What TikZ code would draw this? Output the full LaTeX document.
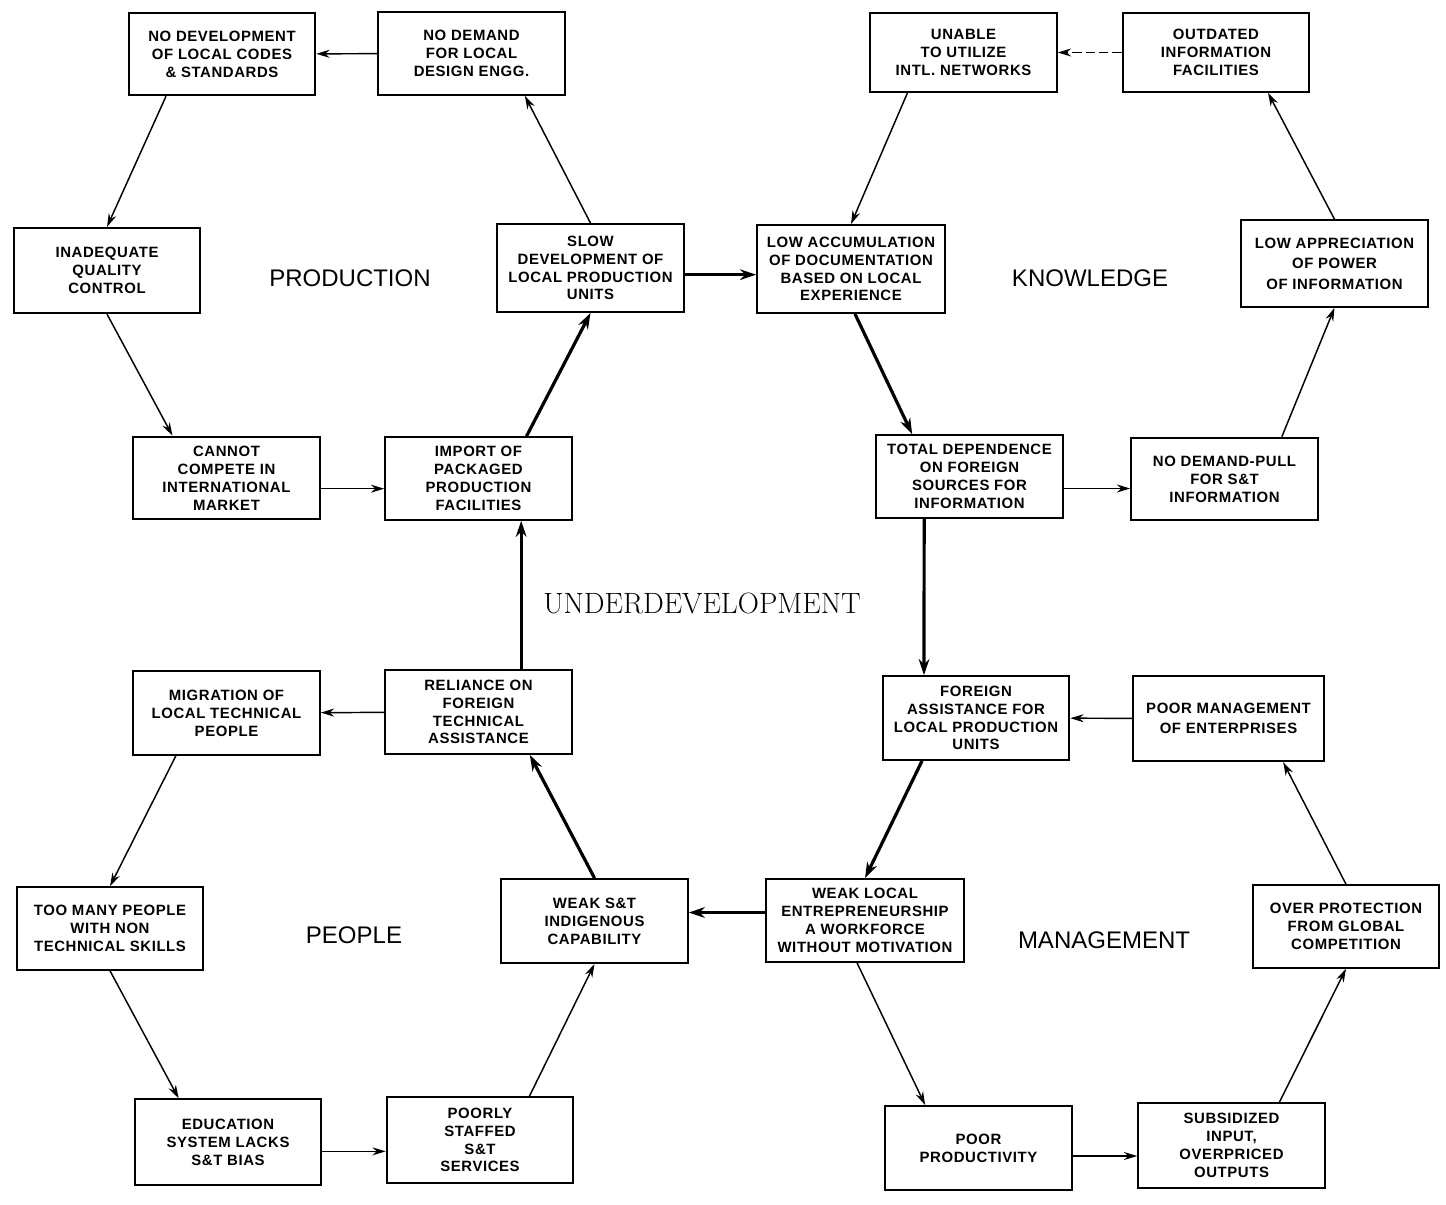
\documentclass[tikz,border=0pt]{standalone}
\usepackage{fontspec}
\usepackage{tikz}
\usetikzlibrary{arrows.meta}
\newfontfamily\boxfont{Liberation Sans}[LetterSpace=4]
\newfontfamily\headfont{Liberation Sans}

\begin{document}
\begin{tikzpicture}[
  x=0.75pt, y=-0.75pt,
  cause/.style={rectangle, draw, line width=1.4pt, minimum width=140pt, minimum height=62pt,
    inner sep=2pt, align=center, font=\boxfont\bfseries\fontsize{11.2}{13.4}\selectfont},
  link/.style={-{Stealth[length=10pt, width=6pt]}, line width=1.1pt},
  mainlink/.style={-{Stealth[length=12pt, width=8pt]}, line width=2.4pt},
  title/.style={font=\headfont\fontsize{18}{20}\selectfont}
]
\fill[white] (0,0) rectangle (1446,1204);

% production
\node[cause] (a1) at (222,54) {NO DEVELOPMENT\\OF LOCAL CODES\\\& STANDARDS};
\node[cause] (a2) at (471.5,53.5) {NO DEMAND\\FOR LOCAL\\DESIGN ENGG.};
\node[cause, minimum height=64pt] (a3) at (107,270.5) {INADEQUATE\\QUALITY\\CONTROL};
\node[cause, minimum height=66pt] (a4) at (590.5,268) {SLOW\\DEVELOPMENT OF\\LOCAL PRODUCTION\\UNITS};
\node[cause] (a5) at (226.5,478) {CANNOT\\COMPETE IN\\INTERNATIONAL\\MARKET};
\node[cause] (a6) at (478.5,478.5) {IMPORT OF\\PACKAGED\\PRODUCTION\\FACILITIES};

% knowledge
\node[cause, minimum height=59pt] (b1) at (963.5,52.5) {UNABLE\\TO UTILIZE\\INTL. NETWORKS};
\node[cause, minimum height=59pt] (b2) at (1216,52.5) {OUTDATED\\INFORMATION\\FACILITIES};
\node[cause, minimum width=141pt, minimum height=66pt] (b3) at (851,269) {LOW ACCUMULATION\\OF DOCUMENTATION\\BASED ON LOCAL\\EXPERIENCE};
\node[cause, minimum height=65pt] (b4) at (1334.5,263.5) {LOW APPRECIATION\\[2pt]OF POWER\\[2pt]OF INFORMATION};
\node[cause] (b5) at (969.5,476.5) {TOTAL DEPENDENCE\\ON FOREIGN\\SOURCES FOR\\INFORMATION};
\node[cause] (b6) at (1224.5,479) {NO DEMAND-PULL\\FOR S\&T\\INFORMATION};

% people
\node[cause, minimum height=63pt] (c1) at (226.5,713) {MIGRATION OF\\LOCAL TECHNICAL\\PEOPLE};
\node[cause, minimum height=63pt] (c2) at (478.5,712) {RELIANCE ON\\FOREIGN\\TECHNICAL\\ASSISTANCE};
\node[cause] (c3) at (110,928.5) {TOO MANY PEOPLE\\WITH NON\\TECHNICAL SKILLS};
\node[cause, minimum height=63pt] (c4) at (594.5,921) {WEAK S\&T\\INDIGENOUS\\CAPABILITY};
\node[cause, minimum height=64pt] (c5) at (228,1142) {EDUCATION\\SYSTEM LACKS\\S\&T BIAS};
\node[cause, minimum height=64pt] (c6) at (480,1140) {POORLY\\STAFFED\\S\&T\\SERVICES};

% management
\node[cause, minimum height=63pt] (d1) at (976,718) {FOREIGN\\ASSISTANCE FOR\\LOCAL PRODUCTION\\UNITS};
\node[cause, minimum width=143pt, minimum height=64pt] (d2) at (1228.5,718.5) {POOR MANAGEMENT\\[2pt]OF ENTERPRISES};
\node[cause, minimum width=148pt] (d3) at (865,920.5) {WEAK LOCAL\\ENTREPRENEURSHIP\\A WORKFORCE\\WITHOUT MOTIVATION};
\node[cause] (d4) at (1346,926.5) {OVER PROTECTION\\FROM GLOBAL\\COMPETITION};
\node[cause, minimum height=63pt] (d5) at (978.5,1148) {POOR\\PRODUCTIVITY};
\node[cause, minimum height=64pt] (d6) at (1231.5,1145.5) {SUBSIDIZED\\INPUT,\\OVERPRICED\\OUTPUTS};

\node[title] (production) at (350,278) {PRODUCTION};
\node[title] (knowledge) at (1090,278) {KNOWLEDGE};
\node[title] (people) at (354,935) {PEOPLE};
\node[title] (management) at (1104,940) {MANAGEMENT};
\node[font=\fontsize{22}{26}\selectfont] (under) at (702,603) {UNDERDEVELOPMENT};

\draw[link] (a2) -- (a1);
\draw[link] ([xshift=-42pt]a1.south) -- (a3.north);
\draw[link] (a3.south) -- ([xshift=-40.5pt]a5.north);
\draw[link] ([yshift=-8pt]a5.east) coordinate (s1) -- (s1 -| a6.west);
\draw[mainlink] ([xshift=36pt]a6.north) -- (a4.south);
\draw[link] (a4.north) -- ([xshift=40pt]a2.south);
\draw[mainlink] ([yshift=-5pt]a4.east) coordinate (s2) -- (s2 -| b3.west);

\draw[link, dash pattern=on 7pt off 3pt] (b2) -- (b1);
\draw[link] ([xshift=-42pt]b1.south) -- (b3.north);
\draw[mainlink] ([xshift=3pt]b3.south) -- ([xshift=-43pt]b5.north);
\draw[link] ([yshift=-9pt]b5.east) coordinate (s3) -- (s3 -| b6.west);
\draw[link] ([xshift=43pt]b6.north) -- (b4.south);
\draw[link] (b4.north) -- ([xshift=39pt]b2.south);
\draw[mainlink] ([xshift=-34pt]b5.south) -- ([xshift=-39pt]d1.north);

\draw[link] (d2) -- (d1);
\draw[mainlink] ([xshift=-40.5pt]d1.south) -- (d3.north);
\draw[mainlink] ([yshift=6pt]d3.west) coordinate (s4) -- (s4 -| c4.east);
\draw[link] ([xshift=-6pt]d3.south) -- ([xshift=-40pt]d5.north);
\draw[link] ([yshift=-6pt]d5.east) coordinate (s5) -- (s5 -| d6.west);
\draw[link] ([xshift=36pt]d6.north) -- (d4.south);
\draw[link] (d4.north) -- ([xshift=41pt]d2.south);

\draw[mainlink] (c4.north) -- ([xshift=38.5pt]c2.south);
\draw[mainlink] ([xshift=32pt]c2.north) -- ([xshift=32pt]a6.south);
\draw[link] (c2) -- (c1);
\draw[link] ([xshift=-38pt]c1.south) -- (c3.north);
\draw[link] (c3.south) -- ([xshift=-37pt]c5.north);
\draw[link] ([yshift=-7pt]c5.east) coordinate (s6) -- (s6 -| c6.west);
\draw[link] ([xshift=37pt]c6.north) -- (c4.south);
\end{tikzpicture}
\end{document}
